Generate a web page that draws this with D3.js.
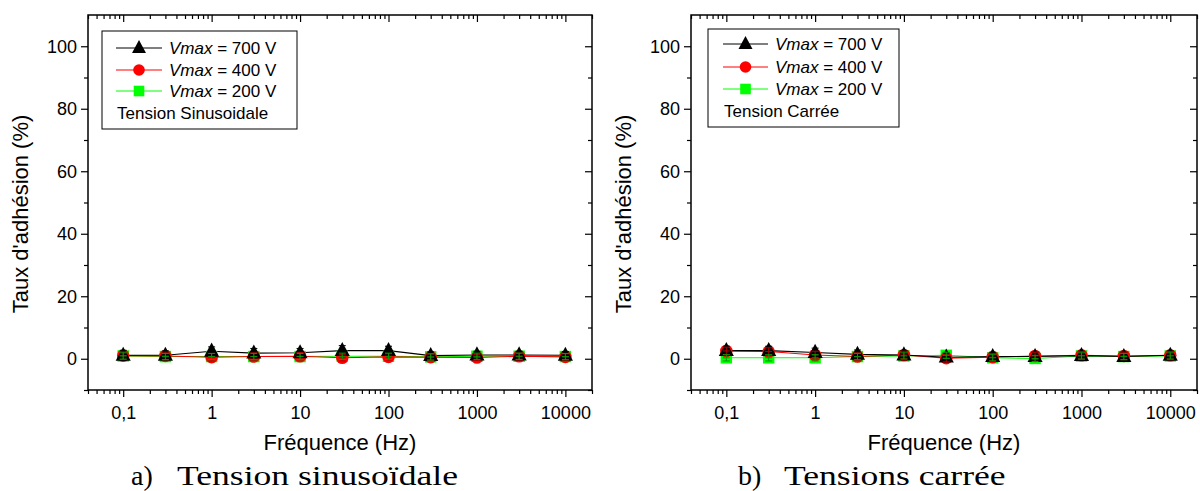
<!DOCTYPE html>
<html><head><meta charset="utf-8">
<script src="https://cdn.jsdelivr.net/npm/d3@7"></script>
<style>body{margin:0;background:#fff} svg{display:block}</style>
</head><body>
<svg id="c" width="1200" height="491"></svg>
<script>
// ---------- data ----------
const frequencies = [0.1, 0.3, 1, 3, 10, 30, 100, 300, 1000, 3000, 10000];
// Tension sinusoïdale
const sinus700 = [1.1, 1.1, 2.4, 1.8, 1.9, 2.6, 2.6, 1.0, 1.2, 1.2, 1.1];
const sinus400 = [1.0, 0.9, 0.5, 0.7, 0.8, 0.3, 0.6, 0.5, 0.4, 0.8, 0.6];
const sinus200 = [0.9, 0.7, 0.7, 0.7, 0.7, 0.8, 0.8, 0.6, 0.8, 0.8, 0.7];
const sinusErr700 = [1.6, 1.4, 1.4, 1.5, 1.4, 1.6, 1.4, 1.2, 1.2, 1.2, 1.2];
const sinusErr400 = [1.2, 1.2, 1.2, 1.2, 1.2, 1.0, 1.0, 1.0, 1.0, 1.0, 1.0];
const sinusErr200 = [1.0, 1.0, 1.0, 1.0, 1.0, 1.0, 1.0, 1.0, 1.0, 1.0, 1.0];
// Tension carrée
const square700 = [2.6, 2.6, 2.0, 1.4, 1.2, 0.5, 0.7, 0.7, 1.0, 0.7, 1.1];
const square400 = [2.5, 2.3, 1.2, 0.7, 1.2, 0.2, 0.5, 0.9, 1.1, 0.9, 1.1];
const square200 = [0.3, 0.3, 0.3, 0.7, 0.9, 1.1, 0.3, 0.1, 0.9, 0.7, 0.9];
const squareErr700 = [1.4, 1.4, 1.4, 1.4, 1.4, 1.4, 1.4, 1.4, 1.4, 1.4, 1.4];
const squareErr400 = [1.2, 1.2, 1.2, 1.2, 1.2, 1.2, 1.2, 1.2, 1.2, 1.2, 1.2];
const squareErr200 = [1.0, 1.0, 1.0, 1.0, 1.0, 1.0, 1.0, 1.0, 1.0, 1.0, 1.0];

const seriesVoltages = ["700", "400", "200"];
const xTickValues = [0.1, 1, 10, 100, 1000, 10000];
const xTickLabels = ["0,1", "1", "10", "100", "1000", "10000"];
const yTickValues = [0, 20, 40, 60, 80, 100];
const yMinorTicks = [-10, 10, 30, 50, 70, 90];
const xDomain = [0.04, 20000];
const yDomain = [-10, 110];
const xTitle = "Fréquence (Hz)";
const yTitle = "Taux d'adhésion (%)";

// ---------- layout ----------
const FONT = "'Liberation Sans', Arial, Helvetica, sans-serif";
const SERIF = "'Liberation Serif', 'Times New Roman', serif";
const styles = [
  {color: "#000000", err: "#000000", shape: "triangle"},
  {color: "#ff0000", err: "#b00000", shape: "circle"},
  {color: "#00ff00", err: "#009a00", shape: "square"}
];
const panels = [
  {x0: 88, x1: 592, series: [sinus700, sinus400, sinus200], errs: [sinusErr700, sinusErr400, sinusErr200],
   legend: {x: 102, y: 31, w: 195, h: 98, rows: [48, 70, 91, 113], lx0: 116, lx1: 162, tx: 169, label: "Tension Sinusoidale"},
   letter: "a)", letterX: 131, caption: "Tension sinusoïdale", capX: 177},
  {x0: 691, x1: 1197, series: [square700, square400, square200], errs: [squareErr700, squareErr400, squareErr200],
   legend: {x: 708, y: 29, w: 191, h: 98, rows: [44, 67, 89, 111], lx0: 723, lx1: 768, tx: 775, label: "Tension Carrée"},
   letter: "b)", letterX: 738, caption: "Tensions carrée", capX: 784}
];
const Y0 = 15, Y1 = 390;

const svg = d3.select("#c");

function drawMarker(g, shape, cx, cy, color, big) {
  const k = big ? 1.08 : 1;
  if (shape === "triangle") {
    g.append("path").attr("d", `M${cx},${cy-8*k}L${cx+7*k},${cy+5*k}L${cx-7*k},${cy+5*k}Z`).attr("fill", color);
  } else if (shape === "circle") {
    g.append("circle").attr("cx", cx).attr("cy", cy).attr("r", 5.8*k).attr("fill", color);
  } else {
    g.append("rect").attr("x", cx-5.3*k).attr("y", cy-5.3*k).attr("width", 10.6*k).attr("height", 10.6*k).attr("fill", color);
  }
}

// log minor ticks
const minorX = [];
for (let e = -2; e <= 4; e++) for (let k = 2; k <= 9; k++) {
  const v = k * Math.pow(10, e);
  if (v >= xDomain[0] && v <= xDomain[1]) minorX.push(v);
}

panels.forEach(p => {
  const x = d3.scaleLog().domain(xDomain).range([p.x0, p.x1]);
  const y = d3.scaleLinear().domain(yDomain).range([Y1, Y0]);
  const g = svg.append("g");

  const bMaj = g.append("g").attr("transform", `translate(0,${Y1})`)
    .call(d3.axisBottom(x).tickValues(xTickValues).tickSize(7).tickPadding(9)
      .tickFormat((d, i) => xTickLabels[i]));
  const bMin = g.append("g").attr("transform", `translate(0,${Y1})`)
    .call(d3.axisBottom(x).tickValues(minorX).tickSize(4).tickFormat(""));
  const tMaj = g.append("g").attr("transform", `translate(0,${Y0})`)
    .call(d3.axisTop(x).tickValues(xTickValues).tickSize(-7).tickFormat(""));
  const tMin = g.append("g").attr("transform", `translate(0,${Y0})`)
    .call(d3.axisTop(x).tickValues(minorX).tickSize(-4).tickFormat(""));
  const lMaj = g.append("g").attr("transform", `translate(${p.x0},0)`)
    .call(d3.axisLeft(y).tickValues(yTickValues).tickSize(7).tickPadding(4));
  const lMin = g.append("g").attr("transform", `translate(${p.x0},0)`)
    .call(d3.axisLeft(y).tickValues(yMinorTicks).tickSize(4).tickFormat(""));
  const rMaj = g.append("g").attr("transform", `translate(${p.x1},0)`)
    .call(d3.axisRight(y).tickValues(yTickValues).tickSize(-7).tickFormat(""));
  const rMin = g.append("g").attr("transform", `translate(${p.x1},0)`)
    .call(d3.axisRight(y).tickValues(yMinorTicks).tickSize(-4).tickFormat(""));

  [bMaj, bMin, tMaj, tMin, lMaj, lMin, rMaj, rMin].forEach(a => {
    a.select(".domain").remove();
    a.selectAll("line").attr("stroke", "#000").attr("stroke-width", 1.2);
    a.selectAll("text").attr("font-family", FONT).attr("font-size", 18).attr("fill", "#000");
  });

  g.append("rect").attr("x", p.x0).attr("y", Y0).attr("width", p.x1 - p.x0).attr("height", Y1 - Y0)
    .attr("fill", "none").attr("stroke", "#000").attr("stroke-width", 1.5);

  const lineGen = d3.line().x((d, i) => x(frequencies[i])).y(d => y(d));
  for (let s = 2; s >= 0; s--) {
    g.append("path").datum(p.series[s]).attr("d", lineGen)
      .attr("fill", "none").attr("stroke", styles[s].color).attr("stroke-width", 1.1);
  }
  for (let s = 2; s >= 0; s--) {
    p.series[s].forEach((v, i) => drawMarker(g, styles[s].shape, x(frequencies[i]), y(v), styles[s].color, true));
  }
  for (let s = 0; s <= 2; s++) {
    p.series[s].forEach((v, i) => {
      const cx = x(frequencies[i]), e = p.errs[s][i];
      const ya = y(v - e), yb = y(v + e);
      g.append("line").attr("x1", cx).attr("x2", cx).attr("y1", ya).attr("y2", yb)
        .attr("stroke", styles[s].err).attr("stroke-width", 1);
      [ya, yb, y(v)].forEach(yy => g.append("line").attr("x1", cx - 3.5).attr("x2", cx + 3.5)
        .attr("y1", yy).attr("y2", yy).attr("stroke", styles[s].err).attr("stroke-width", 1));
    });
  }

  const L = p.legend;
  g.append("rect").attr("x", L.x).attr("y", L.y).attr("width", L.w).attr("height", L.h)
    .attr("fill", "#fff").attr("stroke", "#000").attr("stroke-width", 1);
  seriesVoltages.forEach((v, s) => {
    const ry = L.rows[s];
    g.append("line").attr("x1", L.lx0).attr("x2", L.lx1).attr("y1", ry).attr("y2", ry)
      .attr("stroke", styles[s].color).attr("stroke-width", 1);
    drawMarker(g, styles[s].shape, (L.lx0 + L.lx1) / 2, ry, styles[s].color, false);
    const t = g.append("text").attr("x", L.tx).attr("y", ry + 6)
      .attr("font-family", FONT).attr("font-size", 17).attr("fill", "#000");
    t.append("tspan").attr("font-style", "italic").text("Vmax");
    t.append("tspan").text(` = ${v} V`);
  });
  g.append("text").attr("x", L.lx0 + 1).attr("y", L.rows[3] + 6)
    .attr("font-family", FONT).attr("font-size", 17).attr("fill", "#000").text(L.label);

  g.append("text").attr("x", (p.x0 + p.x1) / 2).attr("y", 450).attr("text-anchor", "middle")
    .attr("font-family", FONT).attr("font-size", 22).attr("fill", "#000").text(xTitle);
  g.append("text").attr("transform", `translate(${p.x0 - 60},214) rotate(-90)`).attr("text-anchor", "middle")
    .attr("font-family", FONT).attr("font-size", 22).attr("fill", "#000").text(yTitle);

  g.append("text").attr("x", p.letterX).attr("y", 485)
    .attr("font-family", SERIF).attr("font-size", 28).attr("fill", "#000").text(p.letter);
  g.append("text").attr("transform", `translate(${p.capX},485) scale(1.27,1)`)
    .attr("font-family", SERIF).attr("font-size", 28).attr("fill", "#000").text(p.caption);
});
</script>
</body></html>
